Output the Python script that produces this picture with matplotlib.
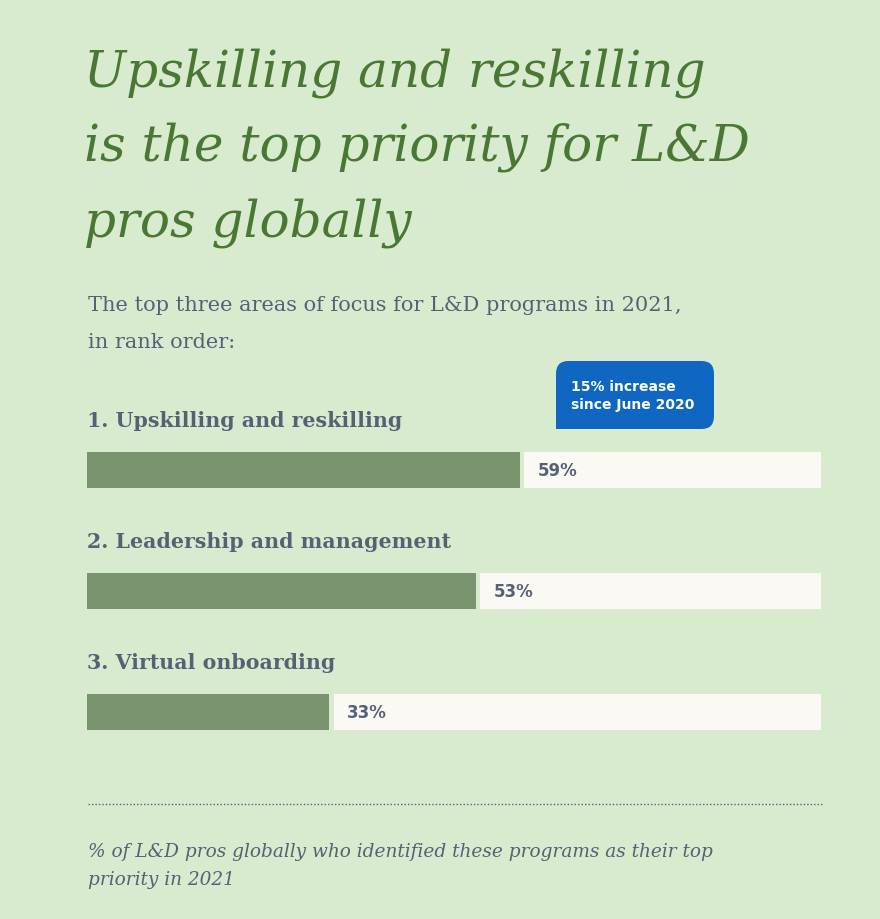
import matplotlib
matplotlib.use("Agg")
import matplotlib.pyplot as plt
from matplotlib.patches import FancyBboxPatch, Rectangle

# data
categories = ["1. Upskilling and reskilling", "2. Leadership and management", "3. Virtual onboarding"]
values = [59, 53, 33]
value_labels = ["59%", "53%", "33%"]

title_lines = ["Upskilling and reskilling", "is the top priority for L&D", "pros globally"]
subtitle_lines = ["The top three areas of focus for L&D programs in 2021,", "in rank order:"]
callout = "15% increase\nsince June 2020"
footnote_lines = ["% of L&D pros globally who identified these programs as their top",
                  "priority in 2021"]

BG = "#d8ebcf"
GREEN = "#7a9470"
TRACK = "#fbf9f4"
GREY = "#566175"
TITLE_GREEN = "#4a7834"
BLUE = "#0f67c2"

W, H = 880, 920
fig = plt.figure(figsize=(W / 100, H / 100), dpi=100, facecolor=BG)


def fx(px):
    return px / W


def fy(py):
    return 1 - py / H


# title + subtitle, one line at a time
for k, line in enumerate(title_lines):
    fig.text(fx(84), fy(86 + 75 * k), line, family="DejaVu Serif", style="italic",
             fontsize=36, color=TITLE_GREEN, va="baseline")
for k, line in enumerate(subtitle_lines):
    fig.text(fx(88), fy(311 + 37 * k), line, family="DejaVu Serif", fontsize=15,
             color=GREY, va="baseline")

# bars
ax = fig.add_axes([fx(87), fy(731), fx(734), 278 / H])
ax.set_facecolor("none")
ypos = list(range(len(values)))
gap = 0.6
ax.barh(ypos, values, height=0.298, color=GREEN)
ax.barh(ypos, [100 - v - gap for v in values], left=[v + gap for v in values],
        height=0.298, color=TRACK)
for i, (c, v, lab) in enumerate(zip(categories, values, value_labels)):
    ax.text(0, i - 0.41, c, fontsize=14.8, fontweight="bold", family="DejaVu Serif",
            color=GREY, va="center", ha="left")
    ax.text(v + gap + 1.8, i, lab, fontsize=12, fontweight="bold",
            family="DejaVu Sans", color=GREY, va="center", ha="left")
ax.set_xlim(0, 100)
ax.set_ylim(len(values) - 1 + 0.149, -0.149)
ax.axis("off")

# callout box
box = FancyBboxPatch((fx(556), fy(430)), fx(158), 68 / H,
                     boxstyle="round,pad=0,rounding_size=0.014",
                     transform=fig.transFigure, facecolor=BLUE, edgecolor="none")
fig.patches.append(box)
# square bottom-left corner
fig.patches.append(Rectangle((fx(556), fy(430)), fx(14), 14 / H,
                             transform=fig.transFigure, facecolor=BLUE, edgecolor="none"))
fig.text(fx(571), fy(396), callout, family="DejaVu Sans", fontweight="bold",
         fontsize=10, color="white", va="center", ha="left", linespacing=1.45)

# dotted rule
fig.add_artist(plt.Line2D([fx(88), fx(823)], [fy(805), fy(805)], transform=fig.transFigure,
                          color=GREY, lw=1, ls=(0, (1, 1.5))))

for k, line in enumerate(footnote_lines):
    fig.text(fx(88), fy(857 + 28 * k), line, family="DejaVu Serif", style="italic",
             fontsize=13.3, color=GREY, va="baseline")

fig.savefig("out.png", dpi=100, facecolor=BG)
